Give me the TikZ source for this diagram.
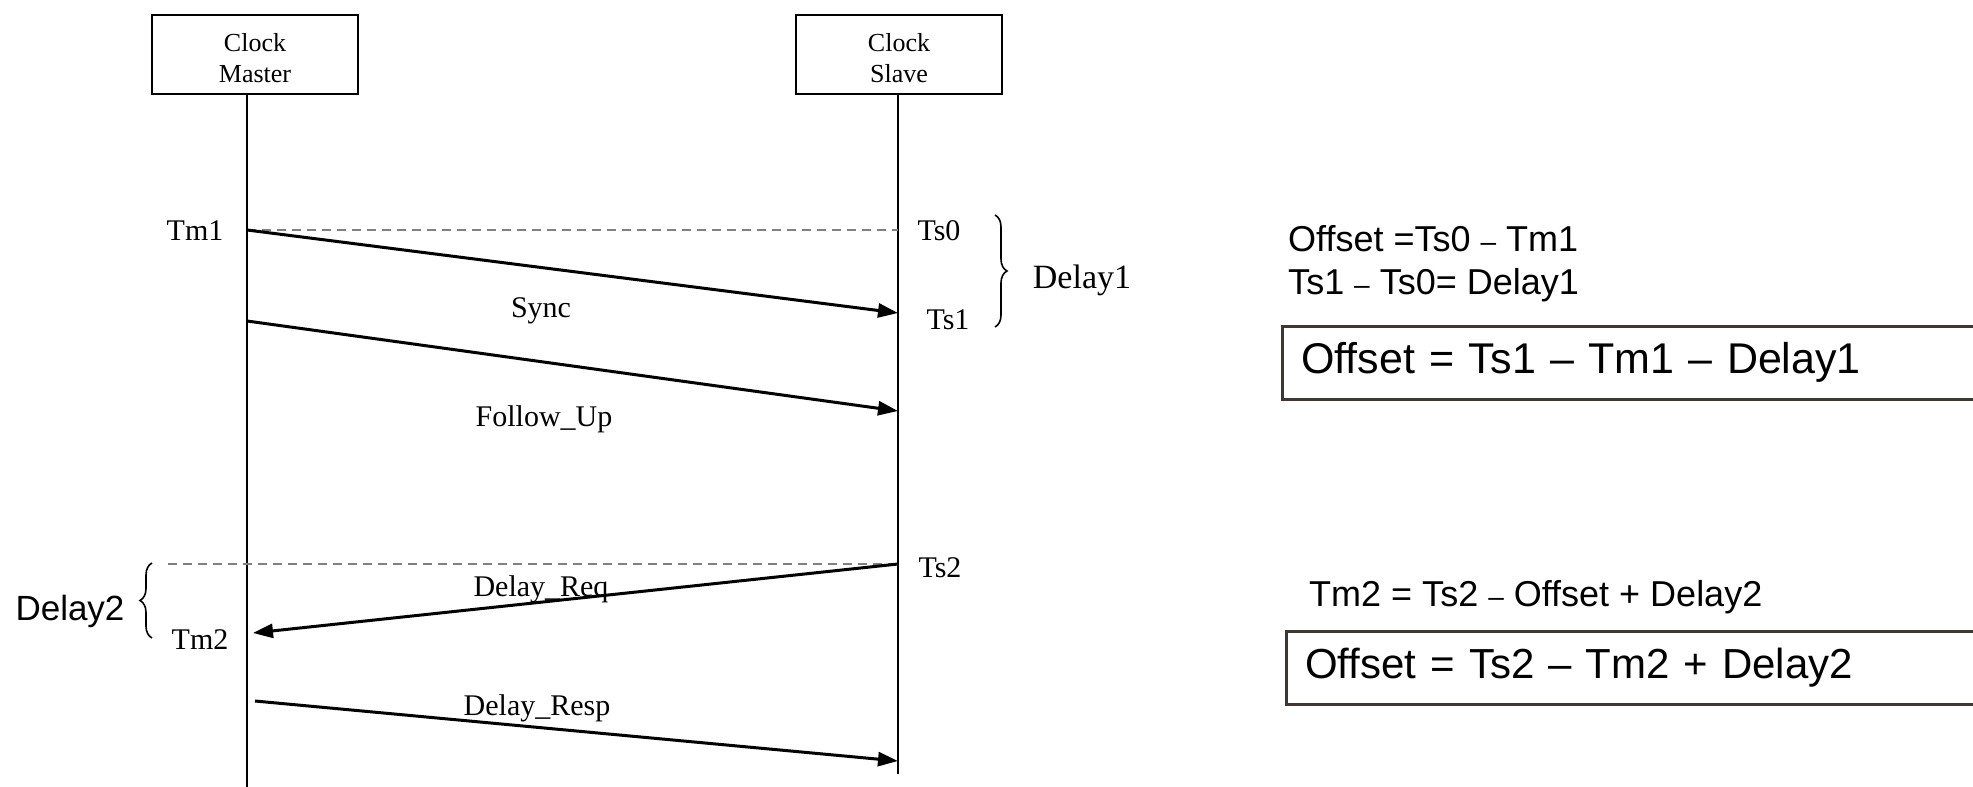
\documentclass[tikz,border=0pt]{standalone}
\usepackage{fontspec}
\setmainfont{Liberation Serif}
\setsansfont{Liberation Sans}
\usetikzlibrary{arrows.meta,decorations.pathreplacing}
\definecolor{boxc}{RGB}{64,56,48}
\definecolor{guidec}{RGB}{128,128,128}
\newcommand\smdash{{\fontsize{28}{28}\selectfont –}}
\begin{document}
\begin{tikzpicture}[x=1pt,y=-1pt,
  lifebox/.style={draw, line width=2.5pt, minimum width=206pt, minimum height=79pt, inner sep=0pt},
  boxtext/.style={align=center, font=\fontsize{26}{31}\selectfont, inner sep=0pt, yshift=-4pt},
  lbl/.style={font=\fontsize{30}{34}\selectfont, inner sep=0pt},
  life/.style={line width=2pt},
  msg/.style={line width=3pt, -{Triangle[length=20pt,width=14pt]}},
  guide/.style={guidec, line width=2.5pt, dash pattern=on 9pt off 6pt},
  bracedec/.style={decorate, decoration={brace, amplitude=12pt}, line width=1.6pt},
  eqtxt/.style={font=\sffamily\fontsize{36}{46}\selectfont, inner sep=0pt, anchor=west},
  resbox/.style={draw=boxc, line width=2.5pt, anchor=north west, minimum height=73pt, text width=700pt, inner xsep=19pt, align=left, font=\sffamily\fontsize{43}{48}\selectfont},
]
\useasboundingbox (0,0) rectangle (1973,787);
\clip (0,0) rectangle (1973,787);
\fill[white] (0,0) rectangle (1973,787);

% lifeline heads
\node[lifebox, label={[boxtext]center:Clock\\Master}] (master) at (255,54.5) {};
\node[lifebox, label={[boxtext]center:Clock\\Slave}] (slave) at (899,54.5) {};

% key points
\coordinate (mend) at (247,787);
\coordinate (send) at (898,774);
\coordinate (m1) at (247,230);
\coordinate (s0) at (898,230);
\coordinate (s1) at (898,313);
\coordinate (m1b) at (247,321);
\coordinate (s1b) at (898,411);
\coordinate (s2) at (898,564);
\coordinate (d2s) at (168,564);
\coordinate (m2) at (253,633);
\coordinate (m2b) at (255,701);
\coordinate (s3) at (898,761);

% lifelines
\draw[life] (master.south -| mend) -- (mend);
\draw[life] (slave.south -| send) -- (send);

% guides
\draw[guide] (m1) -- (s0);
\draw[guide] (d2s) -- (s2);

% messages
\draw[msg] (m1) -- (s1);
\draw[msg] (m1b) -- (s1b);
\draw[msg] (s2) -- (m2);
\draw[msg] (m2b) -- (s3);

% message labels
\node[lbl] (lsync) at (541,311) {Sync};
\node[lbl] (lfol) at (544,419) {Follow\_Up};
\node[lbl] (lreq) at (541,589) {Delay\_Req};
\node[lbl] (lresp) at (537,708) {Delay\_Resp};

% time stamps
\node[lbl] (tm1) at (195,231) {Tm1};
\node[lbl] (ts0) at (939,231) {Ts0};
\node[lbl] (ts1) at (948,320) {Ts1};
\node[lbl] (ts2) at (940,568) {Ts2};
\node[lbl] (tm2) at (200,640) {Tm2};

% braces
\draw[bracedec] (995,215) -- (995,327);
\node[font=\fontsize{34}{38}\selectfont, inner sep=0pt] (dl1) at (1082,280) {Delay1};
\draw[bracedec] (152,638) -- (152,563);
\node[font=\sffamily\fontsize{35}{40}\selectfont, inner sep=0pt] (dl2) at (70,611) {Delay2};

% equations
\node[eqtxt] (e1) at (1288,239) {Offset =Ts0 \smdash{} Tm1};
\node[eqtxt] (e2) at (1288,285) {Ts1 \smdash{} Ts0= Delay1};
\node[resbox] (r1) at (1281,325) {Offset = Ts1 – Tm1 – Delay1};
\node[eqtxt] (e3) at (1309,597) {Tm2 = Ts2 \smdash{} Offset + Delay2};
\node[resbox, font=\sffamily\fontsize{42}{48}\selectfont] (r2) at (1285,630) {Offset = Ts2 – Tm2 + Delay2};
\end{tikzpicture}
\end{document}
